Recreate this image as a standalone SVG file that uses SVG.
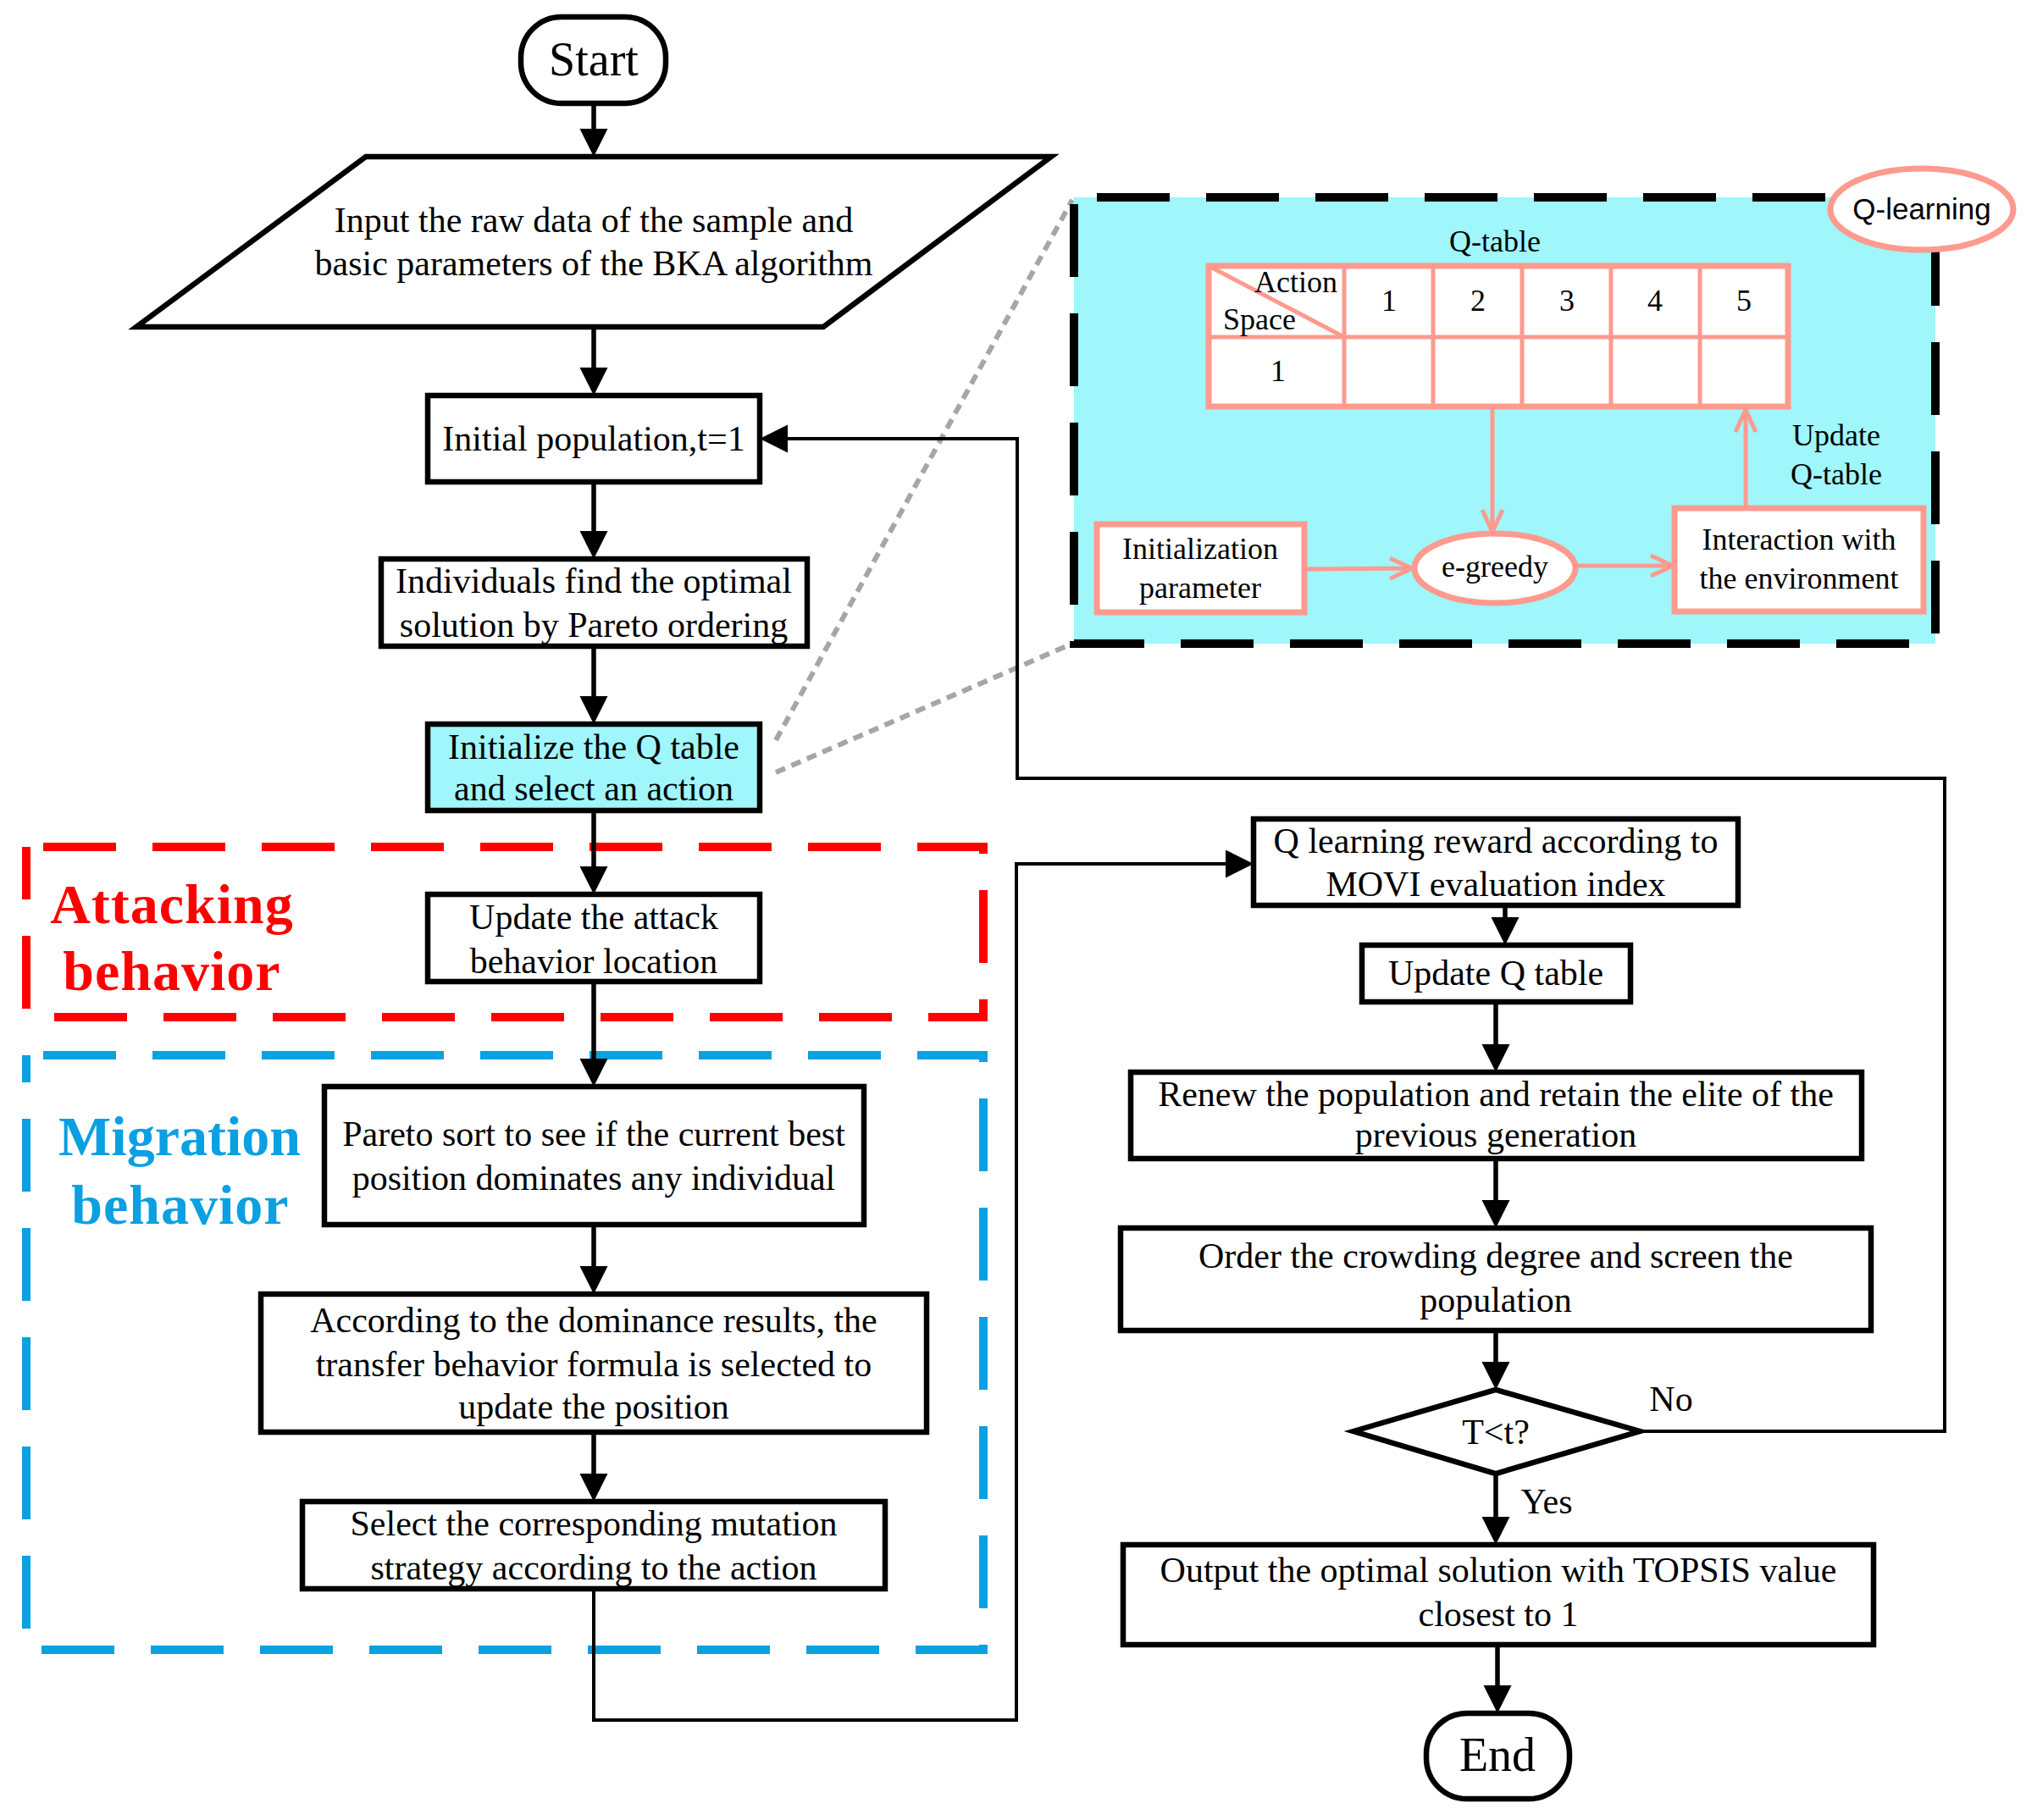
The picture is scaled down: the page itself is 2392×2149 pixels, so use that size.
<svg xmlns="http://www.w3.org/2000/svg" width="2392" height="2149" viewBox="0 0 2392 2149">
<style>
.box{fill:#fff;stroke:#000;stroke-width:6.5}
.cy{fill:#9FF6FB}
.t{font-family:"Liberation Serif","Times New Roman",serif;font-size:42px;text-anchor:middle;fill:#000}
.big{font-size:56px}
.s{font-family:"Liberation Serif","Times New Roman",serif;font-size:36px;fill:#000}
.m{text-anchor:middle}
.conn{fill:none;stroke:#000;stroke-width:5.5}
.loop{stroke-width:4}
.sal{fill:#fff;stroke:#FF9A8F;stroke-width:7}
.sline{fill:none;stroke:#FF9A8F;stroke-width:5}
.dash{fill:none;stroke-width:10;stroke-dasharray:86 43}
.lab{font-family:"Liberation Serif","Times New Roman",serif;font-weight:bold;font-size:66px;text-anchor:middle}
.dot{fill:none;stroke:#A6A6A6;stroke-width:6;stroke-dasharray:12 8}
</style>
<defs>
<marker id="ah" markerUnits="userSpaceOnUse" markerWidth="34" markerHeight="34" viewBox="0 0 34 34" refX="21" refY="16.5" orient="auto">
<path d="M0,0 L33,16.5 L0,33 z" fill="#000"/>
</marker>
<marker id="av" markerUnits="userSpaceOnUse" markerWidth="34" markerHeight="34" viewBox="-4 -4 34 34" refX="26" refY="12" orient="auto">
<path d="M0,0 L26,12 L0,24" fill="none" stroke="#FF9A8F" stroke-width="5"/>
</marker>
</defs>
<rect width="2392" height="2149" fill="#fff"/>

<!-- grouping frames -->
<g id="attacking-frame">
<rect x="31" y="1000" width="1130" height="201" class="dash" stroke="#FF0000" stroke-dashoffset="-20"/>
<text class="lab" x="203" y="1090" fill="#FF0000" letter-spacing="1">Attacking</text>
<text class="lab" x="203" y="1169" fill="#FF0000" letter-spacing="1">behavior</text>
</g>
<g id="migration-frame">
<rect x="31" y="1246" width="1130" height="702" class="dash" stroke="#0AA0E2" stroke-dashoffset="-20"/>
<text class="lab" x="212" y="1364" fill="#0AA0E2">Migration</text>
<text class="lab" x="213" y="1445" fill="#0AA0E2" letter-spacing="1">behavior</text>
</g>

<!-- zoom lines -->
<g id="zoom-lines">
<line class="dot" x1="916" y1="874" x2="1266" y2="236"/>
<line class="dot" x1="916" y1="912" x2="1266" y2="760"/>
</g>

<!-- Q-learning panel -->
<g id="qlearning-panel">
<rect x="1268" y="233" width="1017" height="527" fill="#9FF6FB"/>
<rect x="1268" y="233" width="1017" height="527" class="dash" stroke="#000" stroke-dashoffset="-27"/>
</g>
<g id="q-learning-label">
<ellipse cx="2269" cy="247" rx="108" ry="48" class="sal"/>
<text x="2269" y="259" font-family="'Liberation Sans',Arial,sans-serif" font-size="35" text-anchor="middle">Q-learning</text>
</g>
<g id="q-table">
<text class="s m" x="1765" y="297">Q-table</text>
<rect x="1427" y="314" width="684" height="166" class="sal"/>
<line x1="1427" y1="398" x2="2111" y2="398" class="sline" stroke-width="7"/>
<line x1="1587" y1="314" x2="1587" y2="480" class="sline" stroke-width="7"/>
<line x1="1692" y1="314" x2="1692" y2="480" class="sline" stroke-width="7"/>
<line x1="1797" y1="314" x2="1797" y2="480" class="sline" stroke-width="7"/>
<line x1="1902" y1="314" x2="1902" y2="480" class="sline" stroke-width="7"/>
<line x1="2007" y1="314" x2="2007" y2="480" class="sline" stroke-width="7"/>
<line x1="1427" y1="314" x2="1587" y2="398" class="sline" stroke-width="4"/>
<text class="s" x="1481" y="345">Action</text>
<text class="s" x="1444" y="389">Space</text>
<text class="s m" x="1640" y="367">1</text>
<text class="s m" x="1745" y="367">2</text>
<text class="s m" x="1850" y="367">3</text>
<text class="s m" x="1954" y="367">4</text>
<text class="s m" x="2059" y="367">5</text>
<text class="s m" x="1509" y="450">1</text>
</g>
<g id="init-param">
<rect x="1295" y="619" width="245" height="104" class="sal"/>
<text class="s m" x="1417" y="660">Initialization</text>
<text class="s m" x="1417" y="706">parameter</text>
</g>
<g id="e-greedy">
<ellipse cx="1765" cy="671" rx="95" ry="41" class="sal"/>
<text class="s m" x="1765" y="681">e-greedy</text>
</g>
<g id="interaction">
<rect x="1977" y="600" width="294" height="122" class="sal"/>
<text class="s m" x="2124" y="649">Interaction with</text>
<text class="s m" x="2124" y="695">the environment</text>
</g>
<g id="update-qtable-label">
<text class="s m" x="2168" y="526">Update</text>
<text class="s m" x="2168" y="572">Q-table</text>
</g>
<g id="panel-connectors">
<line class="sline" x1="1762" y1="481" x2="1762" y2="628" marker-end="url(#av)"/>
<line class="sline" x1="1543" y1="672" x2="1667" y2="671" marker-end="url(#av)"/>
<line class="sline" x1="1862" y1="668" x2="1975" y2="668" marker-end="url(#av)"/>
<line class="sline" x1="2061" y1="597" x2="2061" y2="484" marker-end="url(#av)"/>
</g>

<!-- main nodes -->
<g id="start">
<rect x="615" y="20" width="171" height="102" rx="48" class="box"/>
<text class="t big" x="701" y="89">Start</text>
</g>
<g id="input">
<polygon points="432,185 1241,185 972,386 161,386" class="box"/>
<text class="t" x="701" y="274">Input the raw data of the sample and</text>
<text class="t" x="701" y="325">basic parameters of the BKA algorithm</text>
</g>
<g id="initial-population">
<rect x="505" y="467" width="392" height="102" class="box"/>
<text class="t" x="701" y="532">Initial population,t=1</text>
</g>
<g id="individuals">
<rect x="450" y="660" width="503" height="103" class="box"/>
<text class="t" x="701" y="700">Individuals find the optimal</text>
<text class="t" x="701" y="752">solution by Pareto ordering</text>
</g>
<g id="init-q">
<rect x="505" y="855" width="392" height="102" class="box cy"/>
<text class="t" x="701" y="896">Initialize the Q table</text>
<text class="t" x="701" y="945">and select an action</text>
</g>
<g id="update-attack">
<rect x="505" y="1056" width="392" height="103" class="box"/>
<text class="t" x="701" y="1097">Update the attack</text>
<text class="t" x="701" y="1149">behavior location</text>
</g>
<g id="pareto-sort">
<rect x="383" y="1283" width="637" height="163" class="box"/>
<text class="t" x="701" y="1353">Pareto sort to see if the current best</text>
<text class="t" x="701" y="1405">position dominates any individual</text>
</g>
<g id="according">
<rect x="308" y="1528" width="786" height="163" class="box"/>
<text class="t" x="701" y="1573">According to the dominance results, the</text>
<text class="t" x="701" y="1625">transfer behavior formula is selected to</text>
<text class="t" x="701" y="1675">update the position</text>
</g>
<g id="select-mutation">
<rect x="357" y="1773" width="688" height="103" class="box"/>
<text class="t" x="701" y="1813">Select the corresponding mutation</text>
<text class="t" x="701" y="1865">strategy according to the action</text>
</g>
<g id="q-reward">
<rect x="1480" y="967" width="572" height="102" class="box"/>
<text class="t" x="1766" y="1007">Q learning reward according to</text>
<text class="t" x="1766" y="1058">MOVI evaluation index</text>
</g>
<g id="update-q">
<rect x="1608" y="1116" width="317" height="67" class="box"/>
<text class="t" x="1766" y="1163">Update Q table</text>
</g>
<g id="renew">
<rect x="1335" y="1266" width="863" height="102" class="box"/>
<text class="t" x="1766" y="1306">Renew the population and retain the elite of the</text>
<text class="t" x="1766" y="1354">previous generation</text>
</g>
<g id="order">
<rect x="1323" y="1450" width="886" height="121" class="box"/>
<text class="t" x="1766" y="1497">Order the crowding degree and screen the</text>
<text class="t" x="1766" y="1549">population</text>
</g>
<g id="decision">
<polygon points="1598,1690 1766,1641 1936,1690 1766,1740" class="box"/>
<text class="t" x="1766" y="1705">T&lt;t?</text>
</g>
<g id="output">
<rect x="1326" y="1824" width="886" height="118" class="box"/>
<text class="t" x="1769" y="1868">Output the optimal solution with TOPSIS value</text>
<text class="t" x="1769" y="1920">closest to 1</text>
</g>
<g id="end">
<rect x="1684" y="2023" width="169" height="101" rx="48" class="box"/>
<text class="t big" x="1768" y="2091">End</text>
</g>

<!-- connectors -->
<g id="connectors">
<line class="conn" x1="701" y1="122" x2="701" y2="173" marker-end="url(#ah)"/>
<line class="conn" x1="701" y1="386" x2="701" y2="455" marker-end="url(#ah)"/>
<line class="conn" x1="701" y1="569" x2="701" y2="648" marker-end="url(#ah)"/>
<line class="conn" x1="701" y1="763" x2="701" y2="843" marker-end="url(#ah)"/>
<line class="conn" x1="701" y1="957" x2="701" y2="1044" marker-end="url(#ah)"/>
<line class="conn" x1="701" y1="1159" x2="701" y2="1271" marker-end="url(#ah)"/>
<line class="conn" x1="701" y1="1446" x2="701" y2="1516" marker-end="url(#ah)"/>
<line class="conn" x1="701" y1="1691" x2="701" y2="1761" marker-end="url(#ah)"/>
<polyline class="conn loop" points="701,1876 701,2031 1200,2031 1200,1020 1468,1020" marker-end="url(#ah)"/>
<line class="conn" x1="1777" y1="1069" x2="1777" y2="1104" marker-end="url(#ah)"/>
<line class="conn" x1="1766" y1="1183" x2="1766" y2="1254" marker-end="url(#ah)"/>
<line class="conn" x1="1766" y1="1368" x2="1766" y2="1438" marker-end="url(#ah)"/>
<line class="conn" x1="1766" y1="1571" x2="1766" y2="1629" marker-end="url(#ah)"/>
<line class="conn" x1="1766" y1="1740" x2="1766" y2="1812" marker-end="url(#ah)"/>
<line class="conn" x1="1768" y1="1942" x2="1768" y2="2011" marker-end="url(#ah)"/>
<polyline class="conn loop" points="1936,1690 2296,1690 2296,919 1201,919 1201,518 909,518" marker-end="url(#ah)"/>
<text class="t" x="1973" y="1666" font-size="44">No</text>
<text class="t" x="1826" y="1787" font-size="44">Yes</text>
</g>
</svg>
